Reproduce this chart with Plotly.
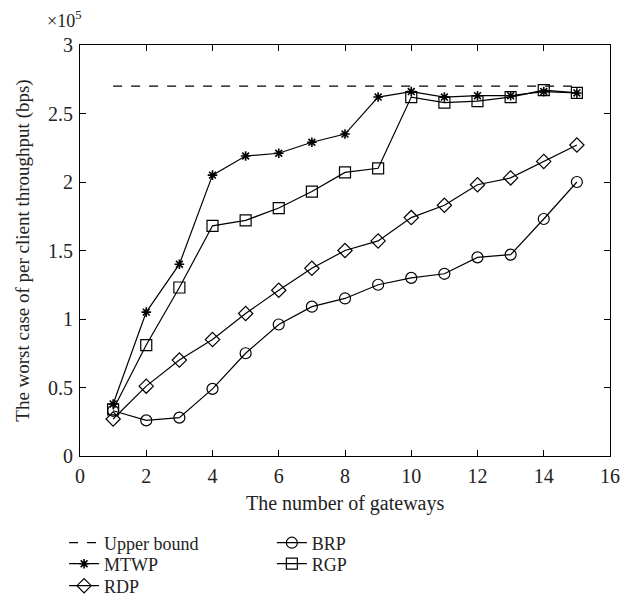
import plotly.graph_objects as go

gateways = list(range(1, 16))
upper_bound = [2.70] * 15
mtwp = [0.38, 1.05, 1.40, 2.05, 2.19, 2.21, 2.29, 2.35, 2.62, 2.66, 2.62, 2.63, 2.63, 2.66, 2.65]
rgp = [0.34, 0.81, 1.23, 1.68, 1.72, 1.81, 1.93, 2.07, 2.10, 2.62, 2.58, 2.59, 2.62, 2.67, 2.65]
rdp = [0.27, 0.51, 0.70, 0.85, 1.04, 1.21, 1.37, 1.50, 1.57, 1.74, 1.83, 1.98, 2.03, 2.15, 2.27]
brp = [0.33, 0.26, 0.28, 0.49, 0.75, 0.96, 1.09, 1.15, 1.25, 1.30, 1.33, 1.45, 1.47, 1.73, 2.00]

x_ticks = [0, 2, 4, 6, 8, 10, 12, 14, 16]
y_ticks = [0, 0.5, 1, 1.5, 2, 2.5, 3]
y_tick_labels = ["0", "0.5", "1", "1.5", "2", "2.5", "3"]

FONT = "Liberation Serif"
TXT = "#222"
fig = go.Figure()

line_style = dict(color="black", width=1.2)


def mk(symbol, size, width=1.2):
    return dict(symbol=symbol, size=size, color="black", line=dict(width=width, color="black"))


fig.add_trace(go.Scatter(x=gateways, y=upper_bound, mode="lines", name="Upper bound",
                         line=dict(color="black", width=1.2, dash="dash"), legend="legend"))
fig.add_trace(go.Scatter(x=gateways, y=brp, mode="lines+markers", name="BRP",
                         line=line_style, marker=mk("circle-open", 11), legend="legend2"))
fig.add_trace(go.Scatter(x=gateways, y=mtwp, mode="lines+markers", name="MTWP",
                         line=line_style, marker=mk("asterisk-open", 8, 1.6), legend="legend3"))
fig.add_trace(go.Scatter(x=gateways, y=rgp, mode="lines+markers", name="RGP",
                         line=line_style, marker=mk("square-open", 11), legend="legend4"))
fig.add_trace(go.Scatter(x=gateways, y=rdp, mode="lines+markers", name="RDP",
                         line=line_style, marker=mk("diamond-open", 11), legend="legend5"))

axis_common = dict(showline=True, linecolor="black", linewidth=1.2, mirror="ticks",
                   ticks="inside", ticklen=6, tickwidth=1, tickcolor="black",
                   showgrid=False, zeroline=False, automargin=False,
                   tickfont=dict(family=FONT, size=20, color=TXT))

fig.update_xaxes(range=[0, 16], tickvals=x_ticks, ticklabelstandoff=2, **axis_common)
fig.update_yaxes(range=[0, 3], tickvals=y_ticks, ticktext=y_tick_labels, ticklabelstandoff=2,
                 **axis_common)

fig.add_annotation(text="The number of gateways", xref="paper", yref="paper", x=0.5, y=-0.115,
                   xanchor="center", yanchor="middle", showarrow=False,
                   font=dict(family=FONT, size=20, color=TXT))
fig.add_annotation(text="The worst case of per client throughput (bps)", xref="paper", yref="paper",
                   x=-0.109, y=0.5, textangle=-90, xanchor="center", yanchor="middle", showarrow=False,
                   font=dict(family=FONT, size=19, color=TXT))
fig.add_annotation(text="×10<sup>5</sup>", xref="paper", yref="paper", x=-0.03, y=1.062,
                   xanchor="center", yanchor="middle", showarrow=False,
                   font=dict(family=FONT, size=18, color=TXT))

leg_font = dict(family=FONT, size=18, color=TXT)
col1, col2 = -0.03, 0.362
rows = [-0.2117, -0.2628, -0.3163]


def leg(x, y):
    return dict(x=x, y=y, xanchor="left", yanchor="middle", font=leg_font,
                itemwidth=30, bgcolor="rgba(0,0,0,0)")


fig.update_layout(
    width=622, height=604,
    margin=dict(l=72, r=20, t=37, b=156, autoexpand=False),
    paper_bgcolor="white", plot_bgcolor="white",
    legend=leg(col1, rows[0]),
    legend2=leg(col2, rows[0]),
    legend3=leg(col1, rows[1]),
    legend4=leg(col2, rows[1]),
    legend5=leg(col1, rows[2]),
    showlegend=True,
)

fig.write_html("out.html")
